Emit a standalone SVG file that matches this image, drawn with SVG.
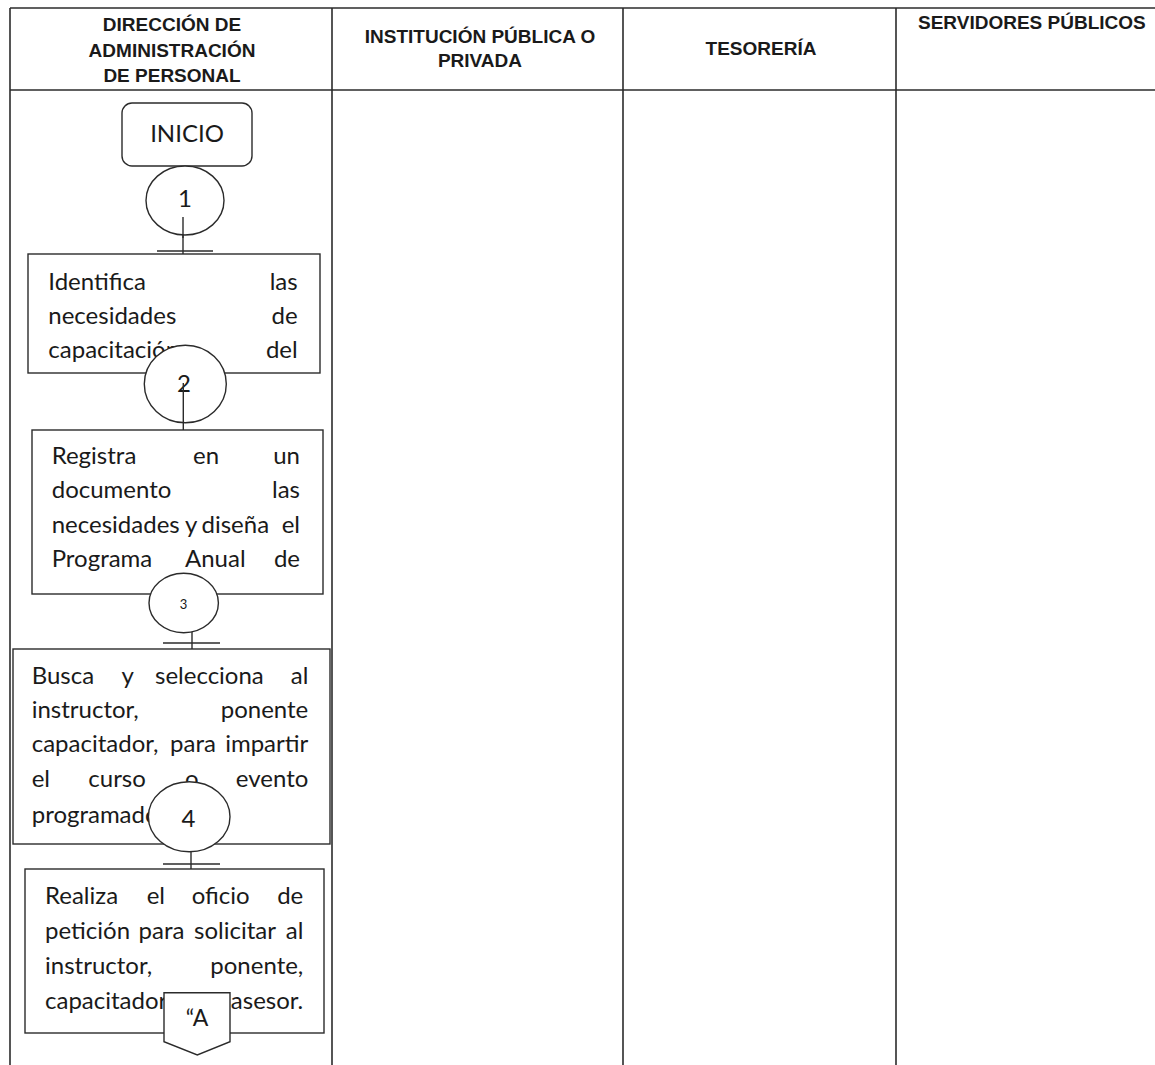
<svg xmlns="http://www.w3.org/2000/svg" width="1155" height="1065" viewBox="0 0 1155 1065">
  <style>
    .grid { stroke: #2b2b2b; stroke-width: 1.6; fill: none; }
    .hdr { font-family: "Liberation Sans", Arial, sans-serif; font-weight: bold; font-size: 19px; fill: #1a1a1a; }
    .box { fill: #ffffff; stroke: #2b2b2b; stroke-width: 1.4; }
    .conn { fill: #ffffff; stroke: #2b2b2b; stroke-width: 1.4; }
    .txt { font-family: Lato, "Open Sans", sans-serif; font-size: 24px; fill: #1a1a1a; }
    .num { font-family: Lato, "Open Sans", sans-serif; font-size: 24px; fill: #1a1a1a; text-anchor: middle; }
    .end { text-anchor: end; }
    .line { stroke: #2b2b2b; stroke-width: 1.4; fill: none; }
  </style>

  <rect width="1155" height="1065" fill="#ffffff"/>

  <!-- swimlane table -->
  <g id="table">
    <line class="grid" x1="10" y1="8" x2="1155" y2="8"/>
    <line class="grid" x1="10" y1="90" x2="1155" y2="90"/>
    <line class="grid" x1="10" y1="8" x2="10" y2="1065"/>
    <line class="grid" x1="332" y1="8" x2="332" y2="1065"/>
    <line class="grid" x1="623" y1="8" x2="623" y2="1065"/>
    <line class="grid" x1="896" y1="8" x2="896" y2="1065"/>
    <text class="hdr" text-anchor="middle"><tspan x="172" y="31">DIRECCIÓN DE</tspan><tspan x="172" y="56.5">ADMINISTRACIÓN</tspan><tspan x="172" y="82">DE PERSONAL</tspan></text>
    <text class="hdr" text-anchor="middle"><tspan x="480" y="43">INSTITUCIÓN PÚBLICA O</tspan><tspan x="480" y="67">PRIVADA</tspan></text>
    <text class="hdr" x="761" y="55" text-anchor="middle">TESORERÍA</text>
    <text class="hdr" x="918" y="29">SERVIDORES PÚBLICOS</text>
  </g>

  <!-- connectors between steps -->
  <g id="connectors">
    <line class="line" x1="183" y1="217" x2="183" y2="254"/>
    <line class="line" x1="157" y1="251" x2="213" y2="251"/>
    <line class="line" x1="192" y1="632" x2="192" y2="649"/>
    <line class="line" x1="163" y1="643" x2="220" y2="643"/>
    <line class="line" x1="191" y1="851" x2="191" y2="869"/>
    <line class="line" x1="163" y1="864" x2="220" y2="864"/>
  </g>

  <g id="inicio">
    <rect class="box" x="122" y="103" width="130" height="63" rx="10"/>
    <text class="num" x="187" y="142">INICIO</text>
  </g>

  <g id="paso1">
    <ellipse class="conn" cx="185" cy="200.5" rx="39" ry="34.5"/>
    <text class="num" x="185" y="207">1</text>
    <line class="line" x1="183" y1="217" x2="183" y2="238"/>
  </g>

  <g id="actividad1">
    <rect class="box" x="28" y="254" width="292" height="119"/>
    <text class="txt" x="48.3" y="290">Identifica</text>
    <text class="txt end" x="297.7" y="290">las</text>
    <text class="txt" x="48.3" y="323.5">necesidades</text>
    <text class="txt end" x="297.7" y="323.5">de</text>
    <text class="txt" x="48.3" y="358">capacitación</text>
    <text class="txt end" x="297.7" y="358">del</text>
  </g>

  <g id="paso2">
    <ellipse class="conn" cx="185.3" cy="384" rx="41" ry="38.8"/>
    <text class="num" x="184" y="392">2</text>
    <line class="line" x1="183.3" y1="383" x2="183.3" y2="430"/>
  </g>

  <g id="actividad2">
    <rect class="box" x="32" y="430" width="291" height="164"/>
    <text class="txt" x="51.7" y="463.5">Registra</text>
    <text class="txt" x="193" y="463.5">en</text>
    <text class="txt end" x="300" y="463.5">un</text>
    <text class="txt" x="51.7" y="498">documento</text>
    <text class="txt end" x="300" y="498">las</text>
    <text class="txt" x="51.7" y="532.5">necesidades</text>
    <text class="txt" x="185" y="532.5">y</text>
    <text class="txt" x="201.5" y="532.5">diseña</text>
    <text class="txt end" x="300" y="532.5">el</text>
    <text class="txt" x="51.7" y="567">Programa</text>
    <text class="txt" x="185" y="567">Anual</text>
    <text class="txt end" x="300" y="567">de</text>
  </g>

  <g id="paso3">
    <ellipse class="conn" cx="183.7" cy="603" rx="34.7" ry="29.7"/>
    <text class="num" x="183.5" y="609" style="font-size:13px">3</text>
  </g>

  <g id="actividad3">
    <rect class="box" x="13" y="649" width="317" height="195"/>
    <text class="txt" x="31.7" y="683.5">Busca</text>
    <text class="txt" x="121.5" y="683.5">y</text>
    <text class="txt" x="155" y="683.5">selecciona</text>
    <text class="txt end" x="308.3" y="683.5">al</text>
    <text class="txt" x="31.7" y="718">instructor,</text>
    <text class="txt end" x="308.3" y="718">ponente</text>
    <text class="txt" x="31.7" y="752">capacitador,</text>
    <text class="txt" x="170" y="752">para</text>
    <text class="txt end" x="308.3" y="752">impartir</text>
    <text class="txt" x="31.7" y="786.5">el</text>
    <text class="txt" x="88.3" y="786.5">curso</text>
    <text class="txt" x="185" y="786.5">o</text>
    <text class="txt end" x="308.3" y="786.5">evento</text>
    <text class="txt" x="31.7" y="823">programado.</text>
  </g>

  <g id="paso4">
    <ellipse class="conn" cx="189.2" cy="816.7" rx="40.8" ry="35"/>
    <text class="num" x="188.5" y="827">4</text>
  </g>

  <g id="actividad4">
    <rect class="box" x="25" y="869" width="299" height="164"/>
    <text class="txt" x="45" y="903.5">Realiza</text>
    <text class="txt" x="146.7" y="903.5">el</text>
    <text class="txt" x="191.7" y="903.5">oficio</text>
    <text class="txt end" x="303.3" y="903.5">de</text>
    <text class="txt" x="45" y="938.5">petición</text>
    <text class="txt" x="138.5" y="938.5">para</text>
    <text class="txt" x="194" y="938.5">solicitar</text>
    <text class="txt end" x="303.3" y="938.5">al</text>
    <text class="txt" x="45" y="973.5">instructor,</text>
    <text class="txt end" x="303.3" y="973.5">ponente,</text>
    <text class="txt" x="45" y="1008.5">capacitador,</text>
    <text class="txt end" x="303.3" y="1008.5">asesor.</text>
  </g>

  <g id="conector-A">
    <polygon class="conn" points="164,992.7 230,992.7 230,1041.7 197.3,1055 164,1041.7"/>
    <text class="num" x="197" y="1026" style="font-size:23px">“A</text>
  </g>
</svg>
